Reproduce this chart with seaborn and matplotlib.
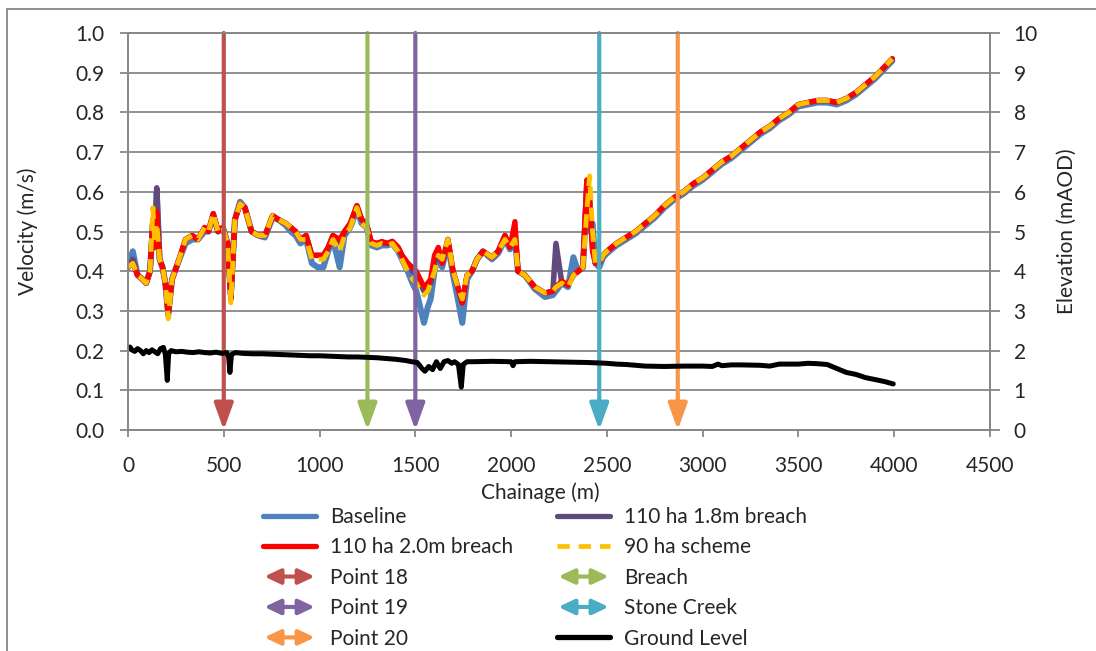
import matplotlib
matplotlib.use("Agg")
import matplotlib.pyplot as plt
import seaborn as sns
from matplotlib.lines import Line2D
from matplotlib.patches import FancyArrowPatch, Rectangle
from matplotlib.legend_handler import HandlerBase

# Chainage along the channel (m) for the velocity profiles
chainage = [0, 25, 50, 75, 95, 115, 130, 140, 150, 165, 180, 195, 210, 230, 260, 300, 335, 365, 400, 420,
            445, 470, 495, 520, 537, 558, 585, 610, 645, 680, 715, 755, 785, 825, 850, 875, 900, 930, 960, 990,
            1020, 1045, 1070, 1105, 1130, 1160, 1195, 1220, 1245, 1270, 1300, 1325, 1355, 1380, 1410, 1430, 1460, 1485, 1505, 1525,
            1545, 1565, 1580, 1600, 1620, 1640, 1670, 1697, 1722, 1745, 1770, 1796, 1822, 1853, 1900, 1932, 1968, 1994, 2020, 2036,
            2072, 2124, 2177, 2218, 2234, 2265, 2297, 2325, 2350, 2375, 2395, 2410, 2425, 2440, 2460, 2480, 2500, 2550, 2600, 2650,
            2700, 2750, 2800, 2850, 2900, 2950, 3000, 3050, 3100, 3150, 3200, 3250, 3300, 3350, 3400, 3450, 3500, 3550, 3600, 3650,
            3700, 3750, 3800, 3850, 3900, 3950, 3990]

# Velocity (m/s) for each scenario
baseline = [0.41, 0.45, 0.39, 0.38, 0.37, 0.40, 0.52, 0.46, 0.60, 0.43, 0.41, 0.37, 0.29, 0.38, 0.42, 0.47, 0.48, 0.48, 0.50, 0.50,
            0.54, 0.50, 0.51, 0.47, 0.34, 0.53, 0.575, 0.56, 0.50, 0.49, 0.485, 0.535, 0.53, 0.515, 0.50, 0.49, 0.47, 0.48, 0.42, 0.41,
            0.41, 0.45, 0.48, 0.41, 0.49, 0.51, 0.555, 0.52, 0.51, 0.465, 0.46, 0.465, 0.465, 0.47, 0.45, 0.43, 0.40, 0.37, 0.35, 0.31,
            0.27, 0.31, 0.33, 0.40, 0.44, 0.41, 0.47, 0.39, 0.33, 0.27, 0.38, 0.40, 0.43, 0.45, 0.43, 0.445, 0.48, 0.455, 0.48, 0.40,
            0.39, 0.355, 0.335, 0.34, 0.35, 0.37, 0.36, 0.435, 0.40, 0.41, 0.60, 0.50, 0.52, 0.42, 0.41, 0.435, 0.445, 0.465, 0.48, 0.495,
            0.515, 0.535, 0.56, 0.58, 0.595, 0.615, 0.63, 0.65, 0.67, 0.685, 0.705, 0.725, 0.745, 0.76, 0.78, 0.795, 0.815, 0.82, 0.825, 0.825,
            0.82, 0.83, 0.845, 0.865, 0.885, 0.91, 0.93]

breach_1_8m = [0.41, 0.43, 0.39, 0.38, 0.37, 0.40, 0.53, 0.47, 0.61, 0.43, 0.41, 0.37, 0.29, 0.38, 0.42, 0.48, 0.49, 0.48, 0.51, 0.50,
               0.545, 0.50, 0.51, 0.47, 0.33, 0.53, 0.57, 0.56, 0.50, 0.49, 0.49, 0.54, 0.53, 0.52, 0.51, 0.50, 0.48, 0.49, 0.44, 0.44,
               0.44, 0.46, 0.49, 0.47, 0.50, 0.52, 0.565, 0.53, 0.52, 0.47, 0.47, 0.47, 0.47, 0.475, 0.46, 0.44, 0.42, 0.40, 0.39, 0.37,
               0.35, 0.36, 0.37, 0.42, 0.45, 0.42, 0.48, 0.40, 0.36, 0.32, 0.39, 0.40, 0.43, 0.45, 0.435, 0.45, 0.49, 0.46, 0.50, 0.40,
               0.39, 0.36, 0.345, 0.35, 0.47, 0.37, 0.365, 0.39, 0.40, 0.41, 0.62, 0.58, 0.46, 0.42, 0.42, 0.44, 0.45, 0.47, 0.485, 0.50,
               0.52, 0.54, 0.565, 0.585, 0.60, 0.62, 0.635, 0.655, 0.675, 0.69, 0.71, 0.73, 0.75, 0.765, 0.785, 0.80, 0.82, 0.825, 0.83, 0.83,
               0.825, 0.835, 0.85, 0.87, 0.89, 0.915, 0.935]

breach_2_0m = [0.41, 0.42, 0.39, 0.38, 0.37, 0.40, 0.53, 0.46, 0.55, 0.43, 0.41, 0.37, 0.29, 0.38, 0.42, 0.48, 0.49, 0.48, 0.51, 0.50,
               0.545, 0.50, 0.51, 0.47, 0.33, 0.53, 0.57, 0.56, 0.50, 0.49, 0.49, 0.54, 0.53, 0.52, 0.51, 0.50, 0.48, 0.49, 0.44, 0.44,
               0.44, 0.46, 0.49, 0.48, 0.50, 0.52, 0.565, 0.53, 0.52, 0.475, 0.47, 0.475, 0.47, 0.475, 0.46, 0.44, 0.42, 0.41, 0.40, 0.38,
               0.36, 0.37, 0.38, 0.44, 0.46, 0.42, 0.48, 0.40, 0.36, 0.32, 0.39, 0.40, 0.43, 0.45, 0.435, 0.45, 0.49, 0.46, 0.525, 0.40,
               0.39, 0.36, 0.345, 0.35, 0.36, 0.375, 0.365, 0.39, 0.40, 0.41, 0.63, 0.58, 0.45, 0.42, 0.42, 0.44, 0.45, 0.47, 0.485, 0.50,
               0.52, 0.54, 0.565, 0.585, 0.60, 0.62, 0.635, 0.655, 0.675, 0.69, 0.71, 0.73, 0.75, 0.765, 0.785, 0.80, 0.82, 0.825, 0.83, 0.83,
               0.825, 0.835, 0.85, 0.87, 0.89, 0.915, 0.935]

scheme_90ha = [0.41, 0.42, 0.39, 0.38, 0.37, 0.40, 0.56, 0.47, 0.52, 0.43, 0.41, 0.37, 0.28, 0.38, 0.42, 0.48, 0.49, 0.48, 0.51, 0.50,
               0.545, 0.50, 0.51, 0.47, 0.32, 0.53, 0.57, 0.56, 0.50, 0.49, 0.49, 0.54, 0.53, 0.52, 0.51, 0.50, 0.48, 0.48, 0.43, 0.43,
               0.43, 0.45, 0.48, 0.45, 0.49, 0.51, 0.56, 0.52, 0.51, 0.47, 0.465, 0.47, 0.465, 0.47, 0.45, 0.43, 0.40, 0.38, 0.37, 0.35,
               0.34, 0.35, 0.37, 0.40, 0.44, 0.43, 0.48, 0.40, 0.36, 0.33, 0.39, 0.40, 0.43, 0.45, 0.435, 0.45, 0.48, 0.46, 0.48, 0.40,
               0.39, 0.36, 0.345, 0.35, 0.36, 0.37, 0.36, 0.39, 0.40, 0.41, 0.55, 0.64, 0.50, 0.42, 0.42, 0.44, 0.45, 0.47, 0.485, 0.50,
               0.52, 0.54, 0.565, 0.585, 0.60, 0.62, 0.635, 0.655, 0.675, 0.69, 0.71, 0.73, 0.75, 0.765, 0.785, 0.80, 0.82, 0.825, 0.83, 0.83,
               0.825, 0.835, 0.85, 0.87, 0.89, 0.915, 0.935]

# Ground level profile (mAOD)
ground_chainage = [0, 10, 20, 35, 50, 65, 80, 95, 110, 125, 140, 155, 170, 185, 195, 205, 212, 225, 250, 280,
                   310, 340, 370, 400, 430, 460, 490, 515, 525, 532, 540, 560, 600, 650, 700, 750, 800, 850, 900, 950,
                   1000, 1050, 1100, 1150, 1200, 1250, 1300, 1350, 1400, 1450, 1480, 1510, 1535, 1550, 1570, 1590, 1610, 1630, 1650, 1670,
                   1690, 1705, 1725, 1740, 1750, 1770, 1800, 1900, 2000, 2010, 2020, 2100, 2200, 2300, 2400, 2500, 2550, 2600, 2700, 2800,
                   2900, 3000, 3050, 3080, 3100, 3150, 3200, 3300, 3350, 3400, 3500, 3550, 3600, 3650, 3700, 3750, 3800, 3850, 3900, 3950,
                   3995]
ground_level = [2.06, 2.09, 2.02, 1.98, 2.05, 2.00, 1.92, 2.00, 1.95, 2.02, 1.97, 1.92, 2.05, 2.08, 1.90, 1.25, 1.92, 2.00, 1.97, 1.98,
                1.96, 1.95, 1.97, 1.95, 1.94, 1.96, 1.93, 1.95, 1.85, 1.45, 1.90, 1.95, 1.93, 1.92, 1.92, 1.91, 1.90, 1.89, 1.88, 1.87,
                1.87, 1.86, 1.85, 1.84, 1.84, 1.83, 1.82, 1.80, 1.78, 1.75, 1.72, 1.70, 1.55, 1.48, 1.60, 1.52, 1.72, 1.55, 1.72, 1.75,
                1.68, 1.72, 1.65, 1.08, 1.65, 1.72, 1.72, 1.73, 1.72, 1.62, 1.72, 1.73, 1.72, 1.71, 1.70, 1.68, 1.66, 1.65, 1.61, 1.60,
                1.61, 1.61, 1.60, 1.66, 1.62, 1.64, 1.64, 1.63, 1.61, 1.66, 1.66, 1.68, 1.67, 1.65, 1.55, 1.45, 1.40, 1.32, 1.27, 1.22,
                1.16]

# Reference locations along the channel
marker_names = ["Point 18", "Breach", "Point 19", "Stone Creek", "Point 20"]
marker_chainage = [500, 1250, 1500, 2460, 2870]
marker_colors = ["#C0504D", "#9BBB59", "#8064A2", "#4BACC6", "#F79646"]

GRID = "#878787"
FS = 15

sns.set_theme(style="white")
plt.rcParams["font.family"] = ["Lato", "DejaVu Sans"]
plt.rcParams["font.size"] = FS

fig = plt.figure(figsize=(10.96, 6.51), dpi=100)
W, H = 1096, 651
L, R, T, B = 128, 990, 33, 430
ax = fig.add_axes([L / W, 1 - B / H, (R - L) / W, (B - T) / H])

# velocity profiles
sns.lineplot(x=chainage, y=baseline, ax=ax, color="#4F81BD", lw=4.4, zorder=3)
sns.lineplot(x=chainage, y=breach_1_8m, ax=ax, color="#604A7B", lw=4.0, zorder=4)
sns.lineplot(x=chainage, y=breach_2_0m, ax=ax, color="#FF0000", lw=3.8, zorder=5)
sns.lineplot(x=chainage, y=scheme_90ha, ax=ax, color="#FFC000", lw=3.5,
             linestyle=(0, (2.8, 1.5)), zorder=6)

# location arrows
for xc, col in zip(marker_chainage, marker_colors):
    ax.annotate("", xy=(xc, 0.0), xytext=(xc, 1.0),
                arrowprops=dict(arrowstyle="-|>,head_length=1.0,head_width=0.36",
                                mutation_scale=16, color=col, lw=3.0,
                                shrinkA=0, shrinkB=0),
                zorder=7, annotation_clip=False)

ax.set_xlim(0, 4500)
ax.set_ylim(0, 1.0)
ax.set_xticks(range(0, 4501, 500))
ax.set_yticks([i / 10 for i in range(11)])
ax.set_yticklabels([f"{i / 10:.1f}" for i in range(11)])
ax.yaxis.grid(True, color=GRID, lw=1.3)
ax.xaxis.grid(False)
for s in ["left", "bottom", "right", "top"]:
    ax.spines[s].set_color(GRID)
    ax.spines[s].set_linewidth(1.3)
ax.tick_params(axis="y", which="major", direction="out", length=6, width=1.3, color=GRID,
               pad=11, labelsize=FS, left=True)
ax.tick_params(axis="x", which="major", direction="out", length=5, width=1.3, color=GRID,
               pad=14, labelsize=FS, bottom=True)
ax.set_xlabel("")
ax.set_ylabel("")

# ground level on secondary axis
ax2 = ax.twinx()
sns.lineplot(x=ground_chainage, y=ground_level, ax=ax2, color="black", lw=3.6)
ax2.set_ylim(0, 10)
ax2.set_yticks(range(0, 11))
ax2.set_ylabel("")
for s in ["left", "bottom", "right", "top"]:
    ax2.spines[s].set_color(GRID)
    ax2.spines[s].set_linewidth(1.3)
ax2.tick_params(axis="y", direction="out", length=7, width=1.3, color=GRID, pad=10,
                labelsize=FS, right=True)

fig.text(28 / W, 1 - 231 / H, "Velocity (m/s)", rotation=90, ha="center", va="center", fontsize=FS)
fig.text(1067 / W, 1 - 231 / H, "Elevation (mAOD)", rotation=90, ha="center", va="center", fontsize=FS)
fig.text(540 / W, 1 - 493 / H, "Chainage (m)", ha="center", va="center", fontsize=FS)


class DoubleArrowHandler(HandlerBase):
    def create_artists(self, legend, orig_handle, xdescent, ydescent, width, height, fontsize, trans):
        y = height / 2 - ydescent
        arrow = FancyArrowPatch((-xdescent + 1, y), (-xdescent + width - 1, y),
                                arrowstyle="<|-|>,head_length=0.95,head_width=0.45",
                                mutation_scale=10, lw=3.0, color=orig_handle.get_color(),
                                shrinkA=0, shrinkB=0, transform=trans)
        return [arrow]


line_handles = {
    "Baseline": Line2D([], [], color="#4F81BD", lw=3.8),
    "110 ha 1.8m breach": Line2D([], [], color="#604A7B", lw=3.8),
    "110 ha 2.0m breach": Line2D([], [], color="#FF0000", lw=3.8),
    "90 ha scheme": Line2D([], [], color="#FFC000", lw=3.4, linestyle=(0, (2.6, 1.9))),
    "Ground Level": Line2D([], [], color="black", lw=3.8),
}
arrow_handles = {n: Line2D([], [], color=c) for n, c in zip(marker_names, marker_colors)}

order = ["Baseline", "110 ha 2.0m breach", "Point 18", "Point 19", "Point 20",
         "110 ha 1.8m breach", "90 ha scheme", "Breach", "Stone Creek", "Ground Level"]
handles = [line_handles.get(n, arrow_handles.get(n)) for n in order]
hmap = {h: DoubleArrowHandler() for h in arrow_handles.values()}

fig.legend(handles, order, handler_map=hmap, ncol=2, loc="upper left",
           bbox_to_anchor=(263 / W, 1 - 507 / H), frameon=False, fontsize=FS,
           handlelength=2.55, handletextpad=0.67, labelspacing=0.5, columnspacing=2.1,
           borderpad=0, borderaxespad=0)

# outer chart border
fig.patches.append(Rectangle((7 / W, -0.05), 1.2, 1 - 9 / H + 0.05, transform=fig.transFigure,
                             fill=False, edgecolor=GRID, lw=1.3, zorder=0))

fig.savefig("out.png", dpi=100)
